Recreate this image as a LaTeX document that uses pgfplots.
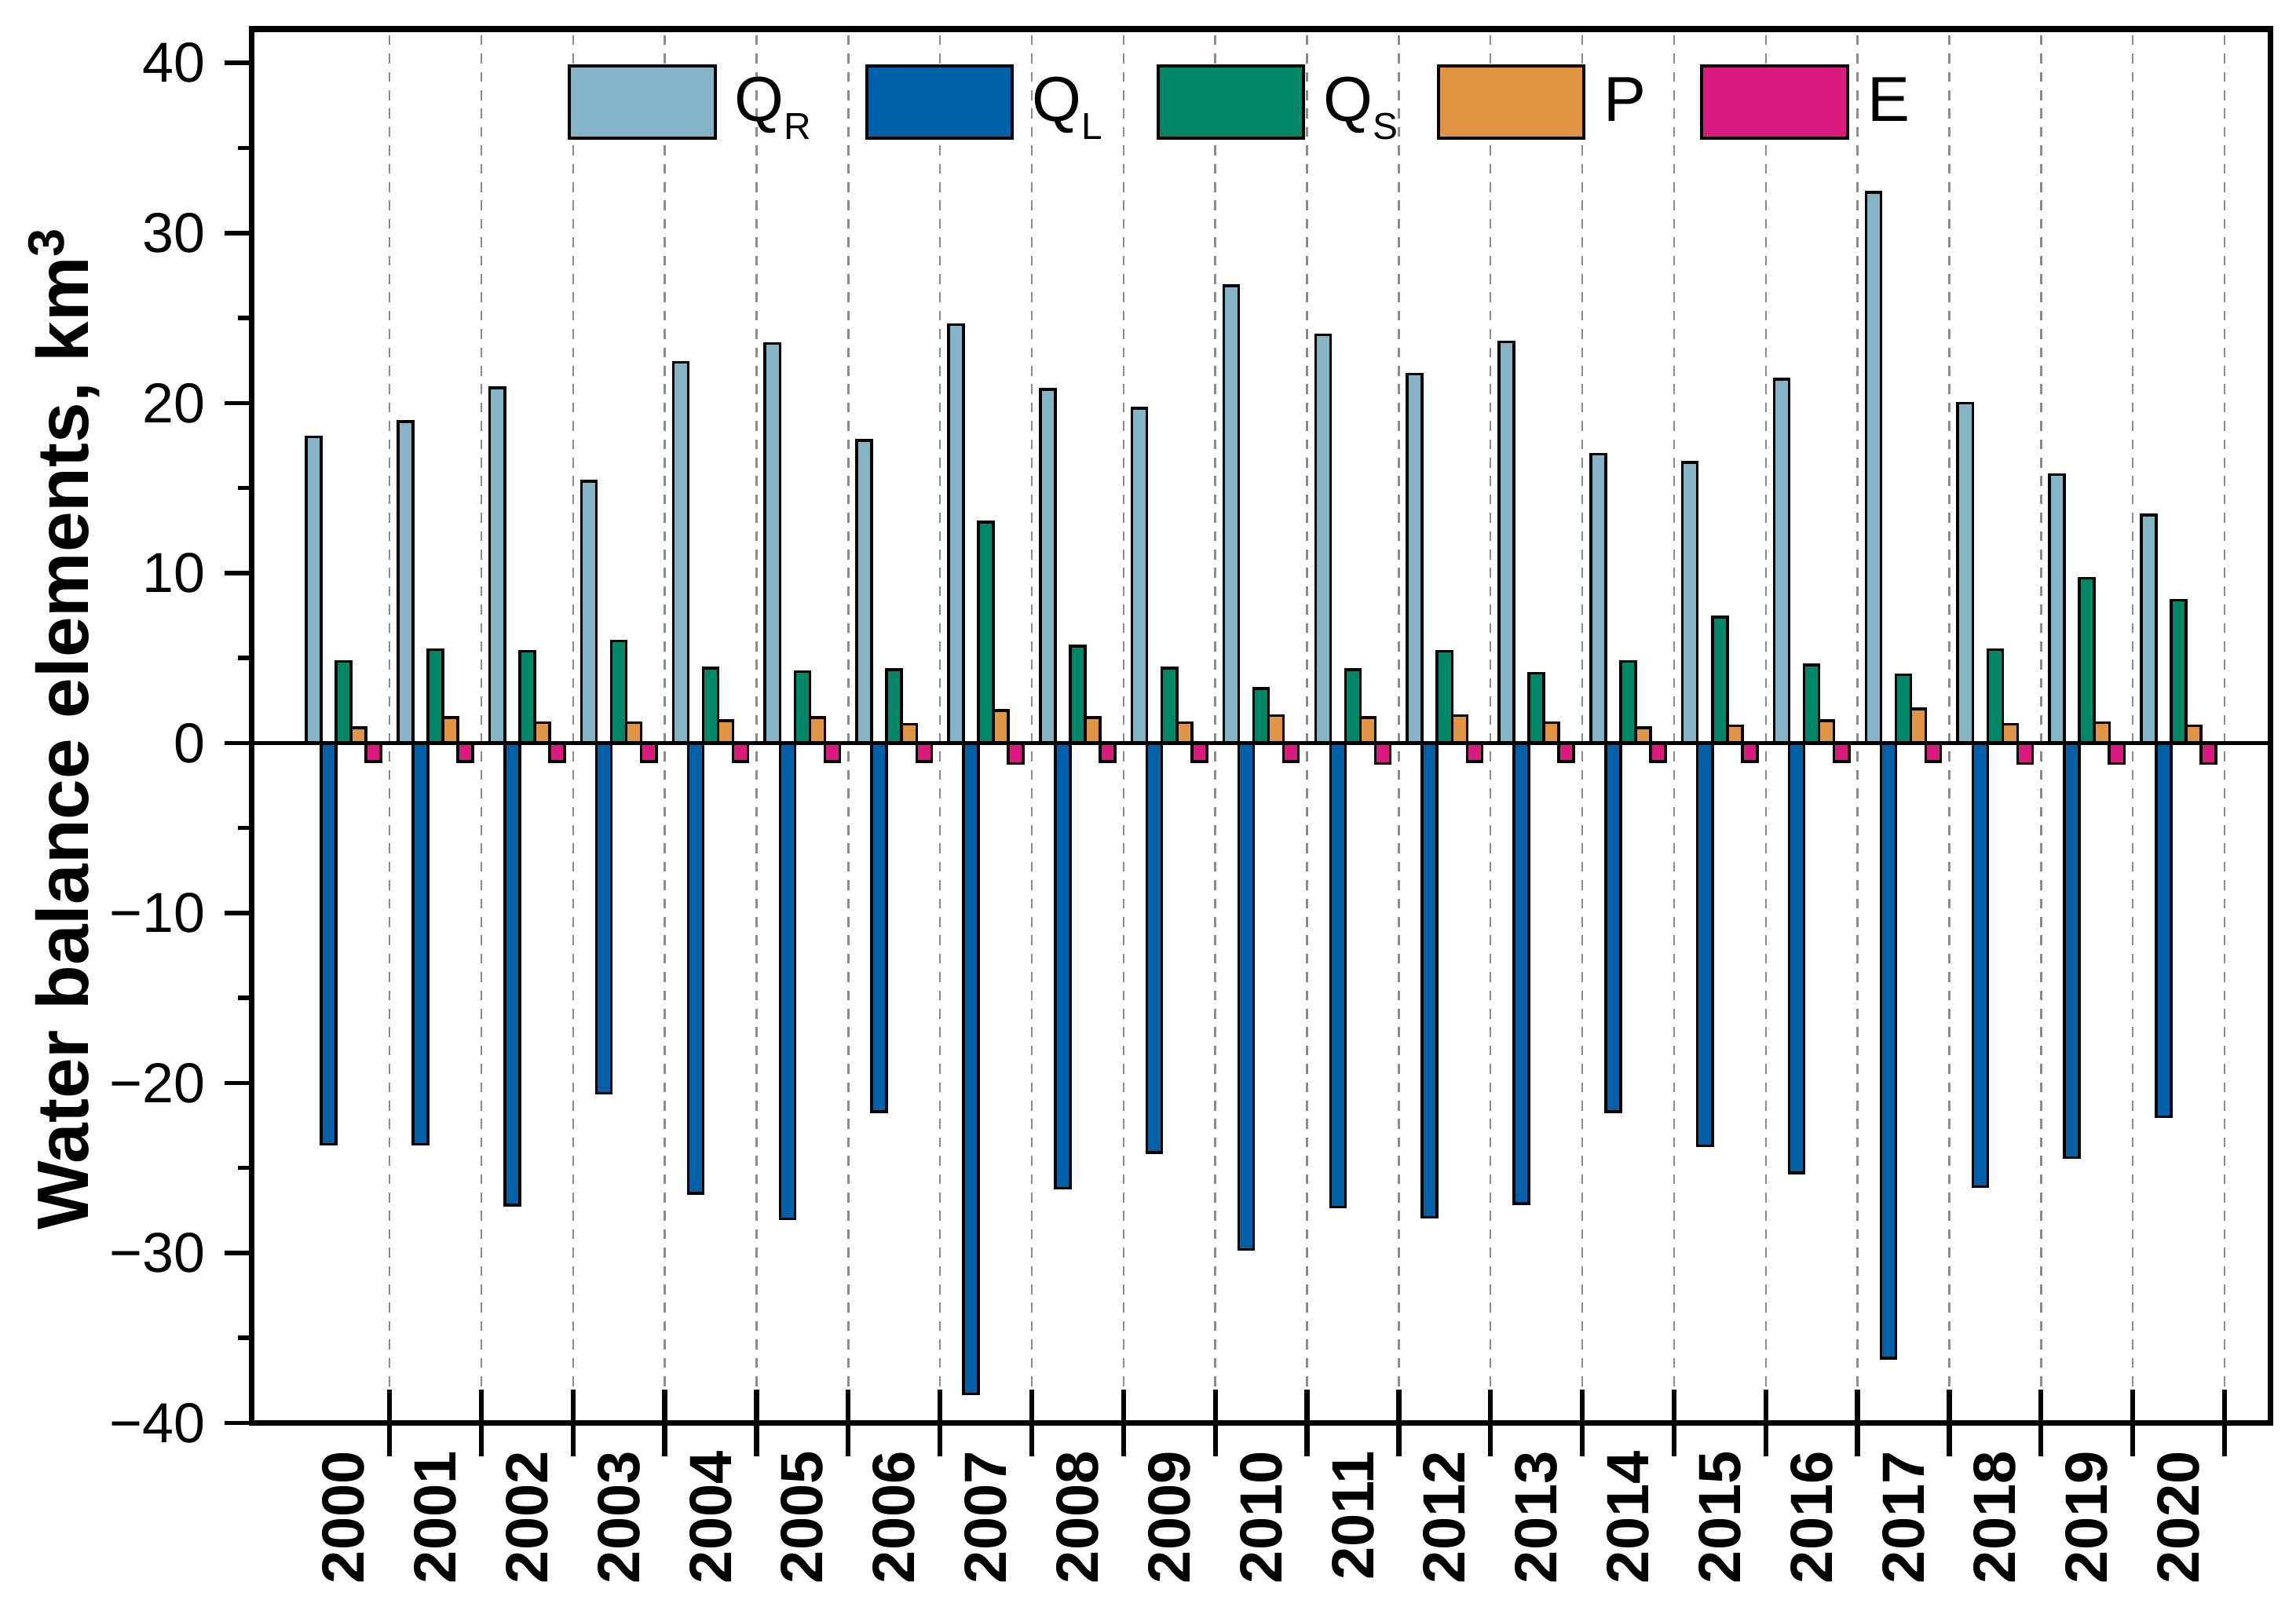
\documentclass[border=0pt]{standalone}
\usepackage{fontspec}
\setmainfont{Liberation Sans}
\usepackage{pgfplots}
\usepackage{pgfplotstable}
\pgfplotsset{compat=1.18}

\definecolor{cQR}{RGB}{134,180,199}
\definecolor{cQL}{RGB}{0,97,169}
\definecolor{cQS}{RGB}{0,135,104}
\definecolor{cP}{RGB}{224,148,68}
\definecolor{cE}{RGB}{219,26,127}
\definecolor{dashgray}{RGB}{140,140,140}

% year index (0 = 2000), Q_R, Q_L, Q_S, P, E in km^3
\pgfplotstableread{
x  QR    QL     QS    P    E
0  18.0  -23.6  4.8   0.9  -1.1
1  18.9  -23.6  5.5   1.5  -1.1
2  20.9  -27.2  5.4   1.2  -1.1
3  15.4  -20.6  6.0   1.2  -1.1
4  22.4  -26.5  4.4   1.3  -1.1
5  23.5  -28.0  4.2   1.5  -1.1
6  17.8  -21.7  4.3   1.1  -1.1
7  24.6  -38.3  13.0  1.9  -1.2
8  20.8  -26.2  5.7   1.5  -1.1
9  19.7  -24.1  4.4   1.2  -1.1
10 26.9  -29.8  3.2   1.6  -1.1
11 24.0  -27.3  4.3   1.5  -1.2
12 21.7  -27.9  5.4   1.6  -1.1
13 23.6  -27.1  4.1   1.2  -1.1
14 17.0  -21.7  4.8   0.9  -1.1
15 16.5  -23.7  7.4   1.0  -1.1
16 21.4  -25.3  4.6   1.3  -1.1
17 32.4  -36.2  4.0   2.0  -1.1
18 20.0  -26.1  5.5   1.1  -1.2
19 15.8  -24.4  9.7   1.2  -1.2
20 13.4  -22.0  8.4   1.0  -1.2
}\wbdata

\newcommand{\sub}[1]{\raisebox{-1.15mm}{\fontsize{6.8}{8}\selectfont #1}}

\begin{document}
\begin{tikzpicture}
\path[use as bounding box] (-16.04mm,-11.28mm) rectangle (130.16mm,90.62mm);

% boundary ticks and dashed separators
\begin{axis}[
  at={(0,0)}, anchor=south west,
  width=128.53mm, height=88.77mm, scale only axis,
  xmin=-1, xmax=21, ymin=-40, ymax=42,
  axis line style={draw=none},
  xtick={0.5,1.5,...,20.5}, xticklabels={}, ytick=\empty,
  tick pos=left, tick align=center, major tick length=4.25mm,
  xtick style={line width=0.9pt, black},
  xmajorgrids,
  major grid style={dashgray, line width=0.35pt, dash pattern=on 0.63mm off 0.54mm},
]
\end{axis}

\begin{axis}[
  at={(0,0)}, anchor=south west,
  width=128.53mm, height=88.77mm, scale only axis,
  xmin=-1, xmax=21, ymin=-40, ymax=42,
  axis line style={line width=1.0pt},
  tick pos=left, tick align=outside,
  major tick length=1.75mm, minor tick length=0.9mm,
  tick style={line width=0.8pt, black},
  ytick={-40,-30,...,40},
  yticklabels={−40,−30,−20,−10,0,10,20,30,40},
  minor ytick={-35,-25,...,35},
  xtick={0,...,20},
  xticklabels={2000,2001,2002,2003,2004,2005,2006,2007,2008,2009,2010,2011,2012,2013,2014,2015,2016,2017,2018,2019,2020},
  xtick style={draw=none},
  xticklabel style={yshift=1.2mm, rotate=90, anchor=east, font=\bfseries\fontsize{10.8}{12}\selectfont},
  yticklabel style={font=\fontsize{10.2}{12}\selectfont},
  ylabel={Water balance elements, km\textsuperscript{3}},
  ylabel style={at={(axis description cs:-0.0812,0.4987)}, anchor=base, font=\bfseries\fontsize{13.2}{15}\selectfont},
  legend columns=-1,
  legend style={at={(axis cs:2.43,40)}, anchor=north west, draw=none, fill=none,
    inner sep=0pt, font=\fontsize{11.5}{13}\selectfont,
    /tikz/every even column/.append style={column sep=2.25mm},
    nodes={inner xsep=1.17mm, inner ysep=0pt, text height=2.9mm, text depth=0mm}},
  legend image code/.code={\draw[#1, line width=0.57pt, draw=black] (0mm,-2.5mm) rectangle (9.28mm,2.1mm);},
]
\addplot[ybar, bar width=0.163, bar shift=-0.326, fill=cQR, draw=black, line width=0.5pt] table[x=x, y=QR] {\wbdata};
\addplot[ybar, bar width=0.163, bar shift=-0.163, fill=cQL, draw=black, line width=0.5pt] table[x=x, y=QL] {\wbdata};
\addplot[ybar, bar width=0.163, bar shift=0, fill=cQS, draw=black, line width=0.5pt] table[x=x, y=QS] {\wbdata};
\addplot[ybar, bar width=0.163, bar shift=0.163, fill=cP, draw=black, line width=0.5pt] table[x=x, y=P] {\wbdata};
\addplot[ybar, bar width=0.163, bar shift=0.326, fill=cE, draw=black, line width=0.5pt] table[x=x, y=E] {\wbdata};
\legend{Q\sub{R}, Q\sub{L}, Q\sub{S}\kern-0.95mm, P, E}
\draw[line width=0.7pt] (axis cs:-1,0) -- (axis cs:21,0);
\end{axis}
\end{tikzpicture}
\end{document}
